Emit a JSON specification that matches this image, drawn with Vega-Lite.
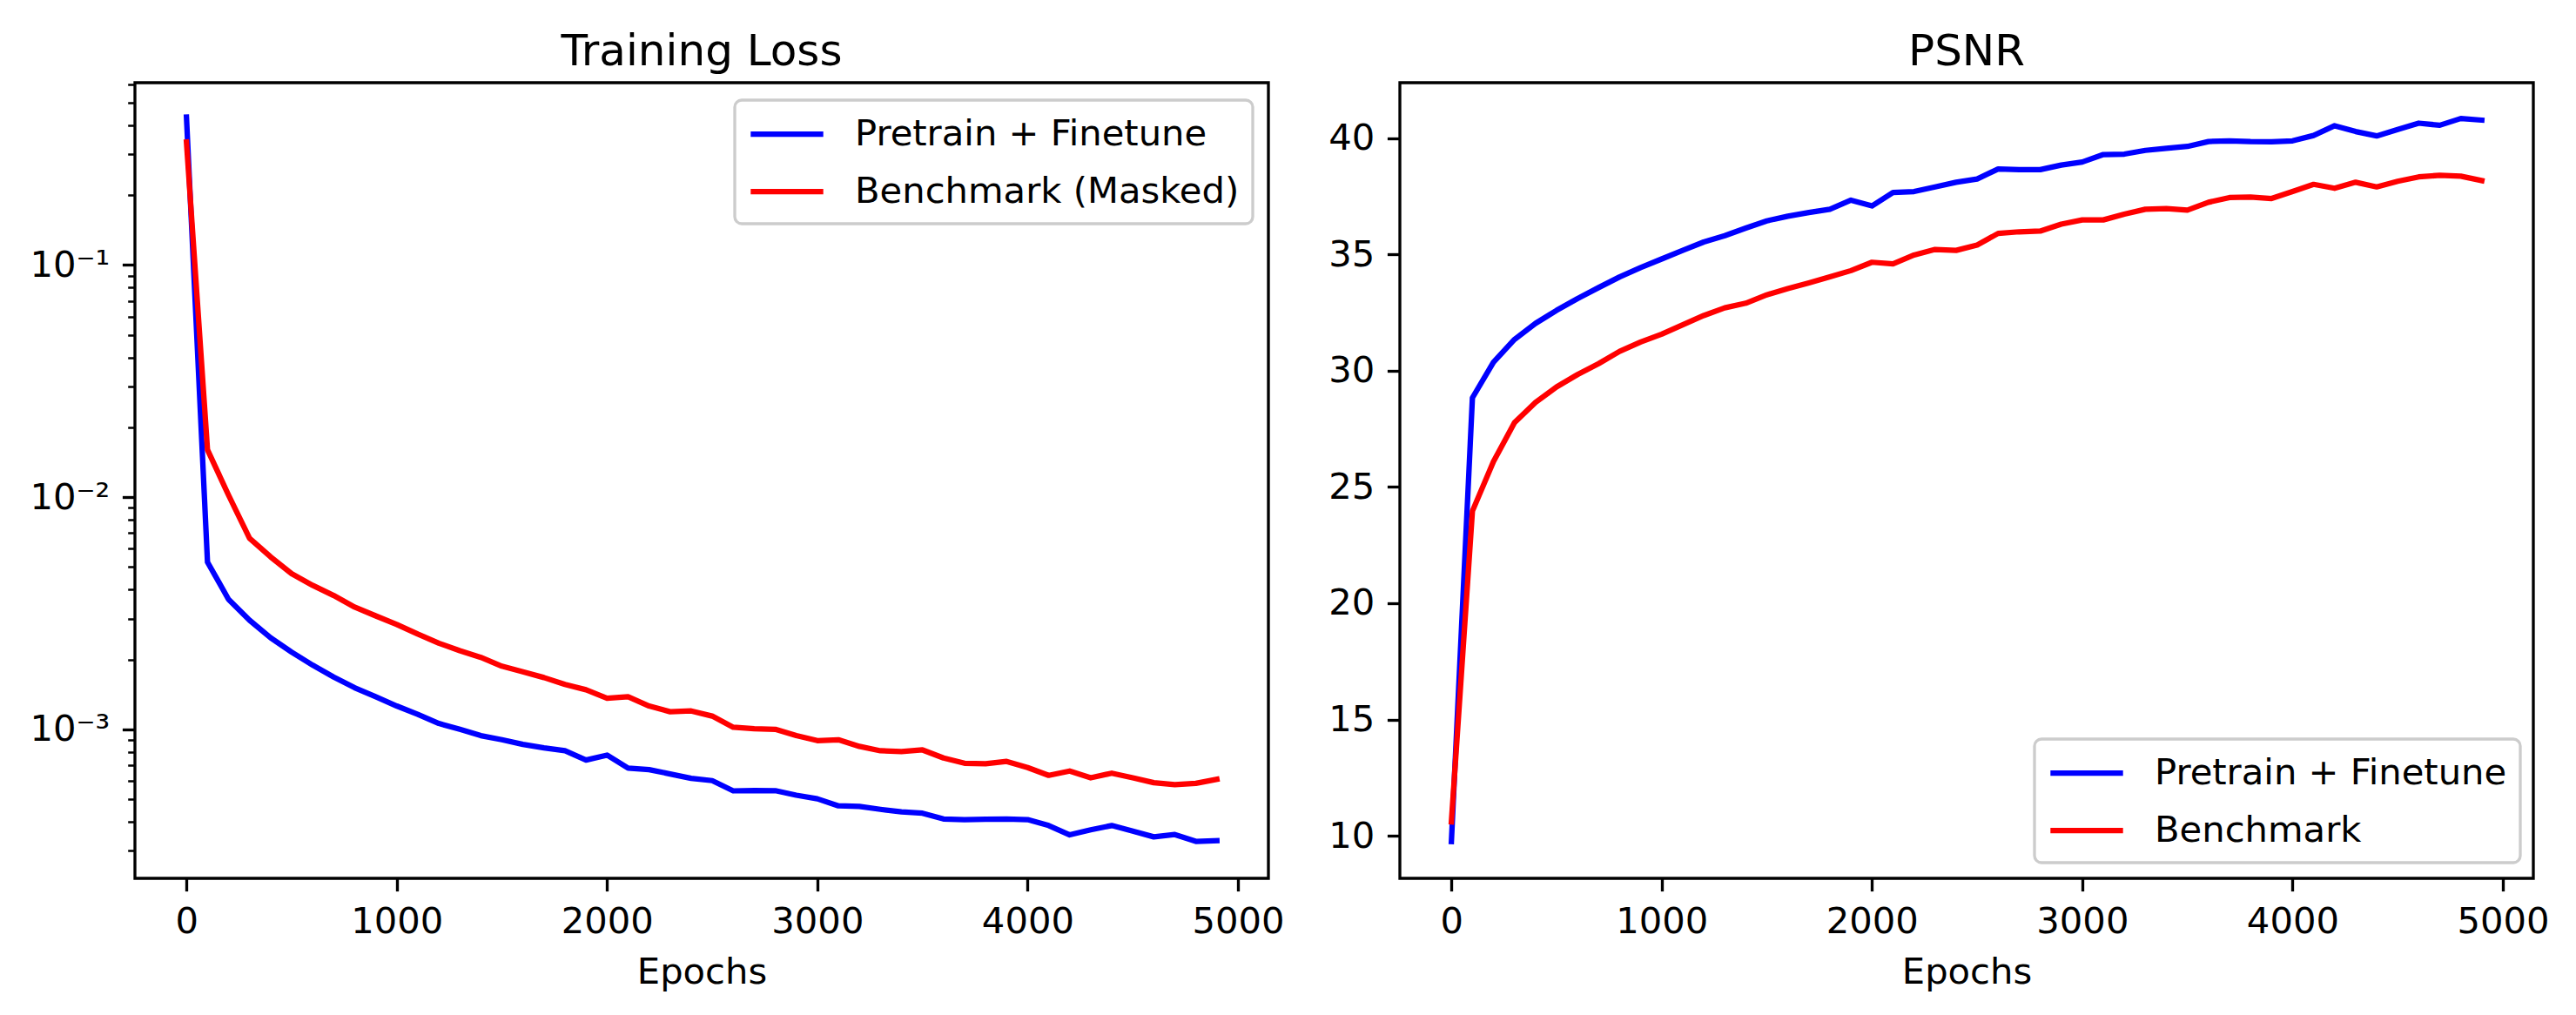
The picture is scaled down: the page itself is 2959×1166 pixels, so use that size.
{
  "$schema": "https://vega.github.io/schema/vega-lite/v6.json",
  "background": "white",
  "padding": {"left": 32, "top": 33, "right": 10, "bottom": 10},
  "config": {
    "font": "DejaVu Sans",
    "view": {"stroke": "black", "strokeWidth": 3.33},
    "axis": {
      "labelFont": "DejaVu Sans", "labelFontSize": 41.7, "labelColor": "black",
      "tickColor": "black", "tickWidth": 3.33, "tickSize": 14.6, "labelPadding": 14.6,
      "domain": false, "grid": false, "labelOverlap": false, "labelFlush": false,
      "titleFont": "DejaVu Sans", "titleFontSize": 41.7, "titleFontWeight": "normal", "titleColor": "black", "titlePadding": 16.7
    },
    "title": {"font": "DejaVu Sans", "fontSize": 50, "fontWeight": "normal", "color": "black", "offset": 10},
    "legend": {
      "title": null, "orient": "none", "symbolType": "M-2,0H2", "symbolStrokeWidth": 6.25, "symbolSize": 1739, "symbolOffset": 21,
      "labelFont": "DejaVu Sans", "labelFontSize": 41.7, "labelColor": "black", "labelOffset": 54,
      "strokeColor": "#cccccc", "strokeWidth": 3.33, "cornerRadius": 8, "fillColor": "white",
      "padding": 15, "rowPadding": 20, "labelLimit": 1000
    }
  },
  "datasets": {
    "loss": [
      {"epoch":0,"series":"Pretrain + Finetune","value":0.434},
      {"epoch":100,"series":"Pretrain + Finetune","value":0.00525},
      {"epoch":200,"series":"Pretrain + Finetune","value":0.00363},
      {"epoch":300,"series":"Pretrain + Finetune","value":0.00295},
      {"epoch":400,"series":"Pretrain + Finetune","value":0.00248},
      {"epoch":500,"series":"Pretrain + Finetune","value":0.00215},
      {"epoch":600,"series":"Pretrain + Finetune","value":0.00189},
      {"epoch":700,"series":"Pretrain + Finetune","value":0.00168},
      {"epoch":800,"series":"Pretrain + Finetune","value":0.00151},
      {"epoch":900,"series":"Pretrain + Finetune","value":0.00138},
      {"epoch":1000,"series":"Pretrain + Finetune","value":0.00126},
      {"epoch":1100,"series":"Pretrain + Finetune","value":0.00116},
      {"epoch":1200,"series":"Pretrain + Finetune","value":0.00106},
      {"epoch":1300,"series":"Pretrain + Finetune","value":0.00100},
      {"epoch":1400,"series":"Pretrain + Finetune","value":0.000939},
      {"epoch":1500,"series":"Pretrain + Finetune","value":0.000902},
      {"epoch":1600,"series":"Pretrain + Finetune","value":0.000861},
      {"epoch":1700,"series":"Pretrain + Finetune","value":0.000832},
      {"epoch":1800,"series":"Pretrain + Finetune","value":0.000808},
      {"epoch":1900,"series":"Pretrain + Finetune","value":0.000737},
      {"epoch":2000,"series":"Pretrain + Finetune","value":0.000774},
      {"epoch":2100,"series":"Pretrain + Finetune","value":0.000680},
      {"epoch":2200,"series":"Pretrain + Finetune","value":0.000670},
      {"epoch":2300,"series":"Pretrain + Finetune","value":0.000642},
      {"epoch":2400,"series":"Pretrain + Finetune","value":0.000615},
      {"epoch":2500,"series":"Pretrain + Finetune","value":0.000601},
      {"epoch":2600,"series":"Pretrain + Finetune","value":0.000543},
      {"epoch":2700,"series":"Pretrain + Finetune","value":0.000545},
      {"epoch":2800,"series":"Pretrain + Finetune","value":0.000544},
      {"epoch":2900,"series":"Pretrain + Finetune","value":0.000520},
      {"epoch":3000,"series":"Pretrain + Finetune","value":0.000502},
      {"epoch":3100,"series":"Pretrain + Finetune","value":0.000468},
      {"epoch":3200,"series":"Pretrain + Finetune","value":0.000465},
      {"epoch":3300,"series":"Pretrain + Finetune","value":0.000452},
      {"epoch":3400,"series":"Pretrain + Finetune","value":0.000441},
      {"epoch":3500,"series":"Pretrain + Finetune","value":0.000435},
      {"epoch":3600,"series":"Pretrain + Finetune","value":0.000411},
      {"epoch":3700,"series":"Pretrain + Finetune","value":0.000408},
      {"epoch":3800,"series":"Pretrain + Finetune","value":0.000410},
      {"epoch":3900,"series":"Pretrain + Finetune","value":0.000411},
      {"epoch":4000,"series":"Pretrain + Finetune","value":0.000408},
      {"epoch":4100,"series":"Pretrain + Finetune","value":0.000385},
      {"epoch":4200,"series":"Pretrain + Finetune","value":0.000351},
      {"epoch":4300,"series":"Pretrain + Finetune","value":0.000369},
      {"epoch":4400,"series":"Pretrain + Finetune","value":0.000385},
      {"epoch":4500,"series":"Pretrain + Finetune","value":0.000364},
      {"epoch":4600,"series":"Pretrain + Finetune","value":0.000344},
      {"epoch":4700,"series":"Pretrain + Finetune","value":0.000352},
      {"epoch":4800,"series":"Pretrain + Finetune","value":0.000329},
      {"epoch":4900,"series":"Pretrain + Finetune","value":0.000331},
      {"epoch":0,"series":"Benchmark (Masked)","value":0.339},
      {"epoch":100,"series":"Benchmark (Masked)","value":0.0160},
      {"epoch":200,"series":"Benchmark (Masked)","value":0.0102},
      {"epoch":300,"series":"Benchmark (Masked)","value":0.00665},
      {"epoch":400,"series":"Benchmark (Masked)","value":0.00553},
      {"epoch":500,"series":"Benchmark (Masked)","value":0.00468},
      {"epoch":600,"series":"Benchmark (Masked)","value":0.00417},
      {"epoch":700,"series":"Benchmark (Masked)","value":0.00377},
      {"epoch":800,"series":"Benchmark (Masked)","value":0.00336},
      {"epoch":900,"series":"Benchmark (Masked)","value":0.00308},
      {"epoch":1000,"series":"Benchmark (Masked)","value":0.00283},
      {"epoch":1100,"series":"Benchmark (Masked)","value":0.00257},
      {"epoch":1200,"series":"Benchmark (Masked)","value":0.00235},
      {"epoch":1300,"series":"Benchmark (Masked)","value":0.00218},
      {"epoch":1400,"series":"Benchmark (Masked)","value":0.00204},
      {"epoch":1500,"series":"Benchmark (Masked)","value":0.00187},
      {"epoch":1600,"series":"Benchmark (Masked)","value":0.00177},
      {"epoch":1700,"series":"Benchmark (Masked)","value":0.00167},
      {"epoch":1800,"series":"Benchmark (Masked)","value":0.00156},
      {"epoch":1900,"series":"Benchmark (Masked)","value":0.00148},
      {"epoch":2000,"series":"Benchmark (Masked)","value":0.00136},
      {"epoch":2100,"series":"Benchmark (Masked)","value":0.00138},
      {"epoch":2200,"series":"Benchmark (Masked)","value":0.00126},
      {"epoch":2300,"series":"Benchmark (Masked)","value":0.00119},
      {"epoch":2400,"series":"Benchmark (Masked)","value":0.00120},
      {"epoch":2500,"series":"Benchmark (Masked)","value":0.00114},
      {"epoch":2600,"series":"Benchmark (Masked)","value":0.00102},
      {"epoch":2700,"series":"Benchmark (Masked)","value":0.001006},
      {"epoch":2800,"series":"Benchmark (Masked)","value":0.00100},
      {"epoch":2900,"series":"Benchmark (Masked)","value":0.000939},
      {"epoch":3000,"series":"Benchmark (Masked)","value":0.000894},
      {"epoch":3100,"series":"Benchmark (Masked)","value":0.000901},
      {"epoch":3200,"series":"Benchmark (Masked)","value":0.000844},
      {"epoch":3300,"series":"Benchmark (Masked)","value":0.000808},
      {"epoch":3400,"series":"Benchmark (Masked)","value":0.000801},
      {"epoch":3500,"series":"Benchmark (Masked)","value":0.000815},
      {"epoch":3600,"series":"Benchmark (Masked)","value":0.000752},
      {"epoch":3700,"series":"Benchmark (Masked)","value":0.000714},
      {"epoch":3800,"series":"Benchmark (Masked)","value":0.000710},
      {"epoch":3900,"series":"Benchmark (Masked)","value":0.000727},
      {"epoch":4000,"series":"Benchmark (Masked)","value":0.000684},
      {"epoch":4100,"series":"Benchmark (Masked)","value":0.000633},
      {"epoch":4200,"series":"Benchmark (Masked)","value":0.000661},
      {"epoch":4300,"series":"Benchmark (Masked)","value":0.000618},
      {"epoch":4400,"series":"Benchmark (Masked)","value":0.000647},
      {"epoch":4500,"series":"Benchmark (Masked)","value":0.000618},
      {"epoch":4600,"series":"Benchmark (Masked)","value":0.000589},
      {"epoch":4700,"series":"Benchmark (Masked)","value":0.000577},
      {"epoch":4800,"series":"Benchmark (Masked)","value":0.000585},
      {"epoch":4900,"series":"Benchmark (Masked)","value":0.000609}
    ],
    "psnr": [
      {"epoch":0,"series":"Pretrain + Finetune","value":9.75},
      {"epoch":100,"series":"Pretrain + Finetune","value":28.83},
      {"epoch":200,"series":"Pretrain + Finetune","value":30.36},
      {"epoch":300,"series":"Pretrain + Finetune","value":31.34},
      {"epoch":400,"series":"Pretrain + Finetune","value":32.03},
      {"epoch":500,"series":"Pretrain + Finetune","value":32.59},
      {"epoch":600,"series":"Pretrain + Finetune","value":33.10},
      {"epoch":700,"series":"Pretrain + Finetune","value":33.57},
      {"epoch":800,"series":"Pretrain + Finetune","value":34.03},
      {"epoch":900,"series":"Pretrain + Finetune","value":34.43},
      {"epoch":1000,"series":"Pretrain + Finetune","value":34.80},
      {"epoch":1100,"series":"Pretrain + Finetune","value":35.17},
      {"epoch":1200,"series":"Pretrain + Finetune","value":35.53},
      {"epoch":1300,"series":"Pretrain + Finetune","value":35.80},
      {"epoch":1400,"series":"Pretrain + Finetune","value":36.13},
      {"epoch":1500,"series":"Pretrain + Finetune","value":36.44},
      {"epoch":1600,"series":"Pretrain + Finetune","value":36.64},
      {"epoch":1700,"series":"Pretrain + Finetune","value":36.80},
      {"epoch":1800,"series":"Pretrain + Finetune","value":36.94},
      {"epoch":1900,"series":"Pretrain + Finetune","value":37.33},
      {"epoch":2000,"series":"Pretrain + Finetune","value":37.08},
      {"epoch":2100,"series":"Pretrain + Finetune","value":37.66},
      {"epoch":2200,"series":"Pretrain + Finetune","value":37.70},
      {"epoch":2300,"series":"Pretrain + Finetune","value":37.90},
      {"epoch":2400,"series":"Pretrain + Finetune","value":38.10},
      {"epoch":2500,"series":"Pretrain + Finetune","value":38.24},
      {"epoch":2600,"series":"Pretrain + Finetune","value":38.67},
      {"epoch":2700,"series":"Pretrain + Finetune","value":38.64},
      {"epoch":2800,"series":"Pretrain + Finetune","value":38.64},
      {"epoch":2900,"series":"Pretrain + Finetune","value":38.84},
      {"epoch":3000,"series":"Pretrain + Finetune","value":38.97},
      {"epoch":3100,"series":"Pretrain + Finetune","value":39.29},
      {"epoch":3200,"series":"Pretrain + Finetune","value":39.31},
      {"epoch":3300,"series":"Pretrain + Finetune","value":39.47},
      {"epoch":3400,"series":"Pretrain + Finetune","value":39.56},
      {"epoch":3500,"series":"Pretrain + Finetune","value":39.64},
      {"epoch":3600,"series":"Pretrain + Finetune","value":39.85},
      {"epoch":3700,"series":"Pretrain + Finetune","value":39.88},
      {"epoch":3800,"series":"Pretrain + Finetune","value":39.85},
      {"epoch":3900,"series":"Pretrain + Finetune","value":39.84},
      {"epoch":4000,"series":"Pretrain + Finetune","value":39.88},
      {"epoch":4100,"series":"Pretrain + Finetune","value":40.11},
      {"epoch":4200,"series":"Pretrain + Finetune","value":40.53},
      {"epoch":4300,"series":"Pretrain + Finetune","value":40.28},
      {"epoch":4400,"series":"Pretrain + Finetune","value":40.09},
      {"epoch":4500,"series":"Pretrain + Finetune","value":40.37},
      {"epoch":4600,"series":"Pretrain + Finetune","value":40.64},
      {"epoch":4700,"series":"Pretrain + Finetune","value":40.55},
      {"epoch":4800,"series":"Pretrain + Finetune","value":40.84},
      {"epoch":4900,"series":"Pretrain + Finetune","value":40.77},
      {"epoch":0,"series":"Benchmark","value":10.6},
      {"epoch":100,"series":"Benchmark","value":23.96},
      {"epoch":200,"series":"Benchmark","value":26.09},
      {"epoch":300,"series":"Benchmark","value":27.76},
      {"epoch":400,"series":"Benchmark","value":28.63},
      {"epoch":500,"series":"Benchmark","value":29.30},
      {"epoch":600,"series":"Benchmark","value":29.83},
      {"epoch":700,"series":"Benchmark","value":30.30},
      {"epoch":800,"series":"Benchmark","value":30.83},
      {"epoch":900,"series":"Benchmark","value":31.23},
      {"epoch":1000,"series":"Benchmark","value":31.57},
      {"epoch":1100,"series":"Benchmark","value":31.97},
      {"epoch":1200,"series":"Benchmark","value":32.37},
      {"epoch":1300,"series":"Benchmark","value":32.70},
      {"epoch":1400,"series":"Benchmark","value":32.90},
      {"epoch":1500,"series":"Benchmark","value":33.26},
      {"epoch":1600,"series":"Benchmark","value":33.53},
      {"epoch":1700,"series":"Benchmark","value":33.77},
      {"epoch":1800,"series":"Benchmark","value":34.03},
      {"epoch":1900,"series":"Benchmark","value":34.30},
      {"epoch":2000,"series":"Benchmark","value":34.66},
      {"epoch":2100,"series":"Benchmark","value":34.59},
      {"epoch":2200,"series":"Benchmark","value":34.97},
      {"epoch":2300,"series":"Benchmark","value":35.21},
      {"epoch":2400,"series":"Benchmark","value":35.17},
      {"epoch":2500,"series":"Benchmark","value":35.40},
      {"epoch":2600,"series":"Benchmark","value":35.90},
      {"epoch":2700,"series":"Benchmark","value":35.97},
      {"epoch":2800,"series":"Benchmark","value":36.00},
      {"epoch":2900,"series":"Benchmark","value":36.30},
      {"epoch":3000,"series":"Benchmark","value":36.48},
      {"epoch":3100,"series":"Benchmark","value":36.48},
      {"epoch":3200,"series":"Benchmark","value":36.73},
      {"epoch":3300,"series":"Benchmark","value":36.94},
      {"epoch":3400,"series":"Benchmark","value":36.97},
      {"epoch":3500,"series":"Benchmark","value":36.90},
      {"epoch":3600,"series":"Benchmark","value":37.24},
      {"epoch":3700,"series":"Benchmark","value":37.44},
      {"epoch":3800,"series":"Benchmark","value":37.46},
      {"epoch":3900,"series":"Benchmark","value":37.40},
      {"epoch":4000,"series":"Benchmark","value":37.70},
      {"epoch":4100,"series":"Benchmark","value":38.01},
      {"epoch":4200,"series":"Benchmark","value":37.84},
      {"epoch":4300,"series":"Benchmark","value":38.10},
      {"epoch":4400,"series":"Benchmark","value":37.90},
      {"epoch":4500,"series":"Benchmark","value":38.14},
      {"epoch":4600,"series":"Benchmark","value":38.33},
      {"epoch":4700,"series":"Benchmark","value":38.40},
      {"epoch":4800,"series":"Benchmark","value":38.36},
      {"epoch":4900,"series":"Benchmark","value":38.17}
    ]
  },
  "bounds": "flush",
  "spacing": 151,
  "resolve": {"scale": {"color": "independent", "x": "independent", "y": "independent"}, "legend": {"color": "independent"}},
  "hconcat": [
    {
      "title": "Training Loss",
      "width": 1302,
      "height": 914,
      "data": {"name": "loss"},
      "mark": {"type": "line", "strokeWidth": 6.25, "strokeCap": "square", "strokeJoin": "round", "clip": true},
      "encoding": {
        "x": {"field": "epoch", "type": "quantitative", "title": "Epochs",
              "scale": {"domain": [-245, 5145], "nice": false, "zero": false},
              "axis": {"values": [0, 1000, 2000, 3000, 4000, 5000], "format": "d"}},
        "y": {"field": "value", "type": "quantitative", "title": null,
              "scale": {"type": "log", "domain": [0.000228, 0.61], "nice": false},
              "axis": {
                "values": [0.0003,0.0004,0.0005,0.0006,0.0007,0.0008,0.0009,0.001,0.002,0.003,0.004,0.005,0.006,0.007,0.008,0.009,0.01,0.02,0.03,0.04,0.05,0.06,0.07,0.08,0.09,0.1,0.2,0.3,0.4,0.5,0.6],
                "labelExpr": "datum.value == 0.1 ? '10⁻¹' : datum.value == 0.01 ? '10⁻²' : datum.value == 0.001 ? '10⁻³' : ''",
                "labelFontSize": {"condition": {"test": "datum.value == 0.1 || datum.value == 0.01 || datum.value == 0.001", "value": 41.7}, "value": 0},
                "tickSize": {"condition": {"test": "datum.value == 0.1 || datum.value == 0.01 || datum.value == 0.001", "value": 14.6}, "value": 8.3},
                "tickWidth": {"condition": {"test": "datum.value == 0.1 || datum.value == 0.01 || datum.value == 0.001", "value": 3.33}, "value": 2.5}
              }},
        "color": {"field": "series", "type": "nominal",
                  "scale": {"domain": ["Pretrain + Finetune", "Benchmark (Masked)"], "range": ["#0000ff", "#ff0000"]},
                  "legend": {"legendX": 689, "legendY": 20}}
      }
    },
    {
      "title": "PSNR",
      "width": 1302,
      "height": 914,
      "data": {"name": "psnr"},
      "mark": {"type": "line", "strokeWidth": 6.25, "strokeCap": "square", "strokeJoin": "round", "clip": true},
      "encoding": {
        "x": {"field": "epoch", "type": "quantitative", "title": "Epochs",
              "scale": {"domain": [-245, 5145], "nice": false, "zero": false},
              "axis": {"values": [0, 1000, 2000, 3000, 4000, 5000], "format": "d"}},
        "y": {"field": "value", "type": "quantitative", "title": null,
              "scale": {"domain": [8.17, 42.38], "nice": false, "zero": false},
              "axis": {"values": [10, 15, 20, 25, 30, 35, 40]}},
        "color": {"field": "series", "type": "nominal",
                  "scale": {"domain": ["Pretrain + Finetune", "Benchmark"], "range": ["#0000ff", "#ff0000"]},
                  "legend": {"legendX": 729, "legendY": 754}}
      }
    }
  ]
}
